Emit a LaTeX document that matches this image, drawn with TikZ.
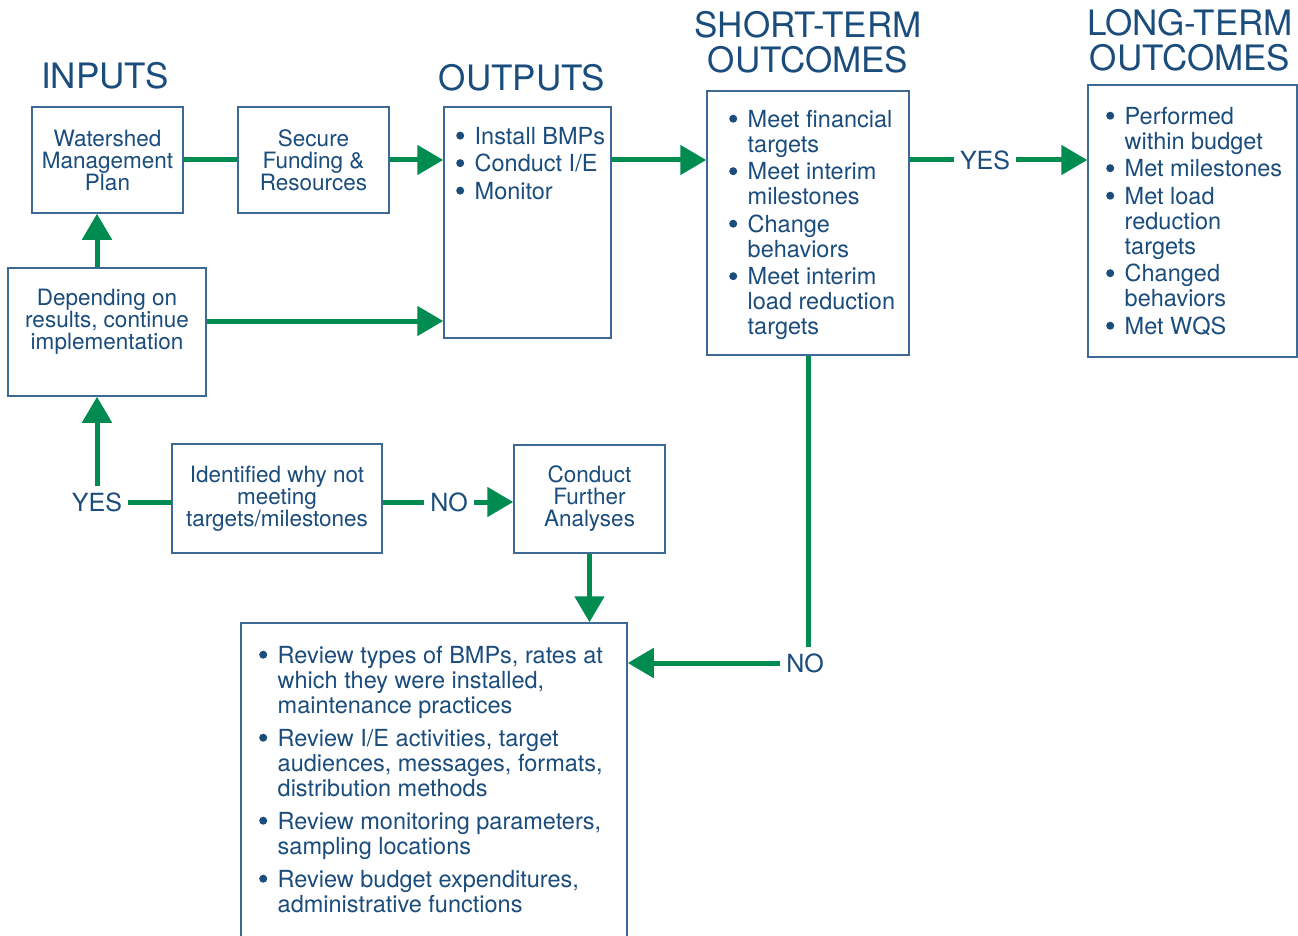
\documentclass[tikz,border=0pt]{standalone}
\usepackage{fontspec}
\setmainfont{TeX Gyre Heros}
\usetikzlibrary{arrows.meta}

\definecolor{navy}{HTML}{1A4C7C}
\definecolor{frame}{HTML}{3C6A95}
\definecolor{leaf}{HTML}{008C50}

\newcommand\bul{\makebox[18.5pt][l]{\tikz[baseline=0pt]\fill[navy] (4pt,8.7pt) circle[radius=4pt];}}
\newcommand\ind{\hspace*{18.5pt}}

\tikzset{
  box/.style={draw=frame, line width=1.5pt, inner sep=0pt, text=navy, align=center,
    font=\fontsize{22.5}{22}\selectfont},
  list/.style={text=navy, align=left, inner sep=0pt, anchor=north west,
    font=\fontsize{23.5}{25}\selectfont},
  heading/.style={text=navy, align=center, inner sep=0pt, font=\fontsize{35}{35}\selectfont},
  answer/.style={text=navy, inner sep=6pt, font=\fontsize{25}{25}\selectfont},
  link/.style={leaf, line width=5pt},
  flow/.style={link, -{Triangle[length=26pt,width=29pt]}},
}

\begin{document}
\begin{tikzpicture}[x=1pt, y=-1pt]
  \path[use as bounding box, fill=white] (0,0) rectangle (1298,936);

  %%% headings
  \node[heading] (inputs-head) at (105,76) {INPUTS};
  \node[heading] (outputs-head) at (522,78) {OUTPUTS};
  \node[heading] (short-head) at (808,42) {SHORT-TERM\\OUTCOMES};
  \node[heading] (long-head) at (1190,40) {LONG-TERM\\OUTCOMES};

  %%% boxes
  \node[box, minimum width=151pt, minimum height=106pt] (watershed) at (107.5,160) {Watershed\\Management\\Plan};
  \node[box, minimum width=151pt, minimum height=106pt] (secure) at (313.5,160) {Secure\\Funding \&\\Resources};
  \node[box, minimum width=167pt, minimum height=231pt] (outputs) at (527.5,222.5) {};
  \node[box, minimum width=202pt, minimum height=264pt] (st) at (808,223) {};
  \node[box, minimum width=209pt, minimum height=272pt] (lt) at (1192.5,221) {};
  \node[box, minimum width=198pt, minimum height=128pt] (depending) at (107,332) {};
  \node[box, draw=none] (depending-text) at (107,322) {Depending on\\results, continue\\implementation};
  \node[box, minimum width=210pt, minimum height=109pt] (identified) at (277,498.5) {Identified why not\\meeting\\targets/milestones};
  \node[box, minimum width=151pt, minimum height=108pt] (conduct) at (589.5,499) {Conduct\\Further\\Analyses};
  \node[box, minimum width=386pt, minimum height=327pt] (review) at (434,786.5) {};

  %%% lists
  \node[list] (outputs-list) at (456,127) {\bul Install BMPs\\[2.5pt]
    \bul Conduct I/E\\[2.5pt]
    \bul Monitor};
  \node[list] (st-list) at (729,110) {\bul Meet financial\\ \ind targets\\[2.5pt]
    \bul Meet interim\\ \ind milestones\\[2.5pt]
    \bul Change\\ \ind behaviors\\[2.5pt]
    \bul Meet interim\\ \ind load reduction\\ \ind targets};
  \node[list] (lt-list) at (1106,107) {\bul Performed\\ \ind within budget\\[2.5pt]
    \bul Met milestones\\[2.5pt]
    \bul Met load\\ \ind reduction\\ \ind targets\\[2.5pt]
    \bul Changed\\ \ind behaviors\\[2.5pt]
    \bul Met WQS};
  \node[list] (review-list) at (259,646) {\bul Review types of BMPs, rates at\\ \ind which they were installed,\\ \ind maintenance practices\\[8pt]
    \bul Review I/E activities, target\\ \ind audiences, messages, formats,\\ \ind distribution methods\\[8pt]
    \bul Review monitoring parameters,\\ \ind sampling locations\\[8pt]
    \bul Review budget expenditures,\\ \ind administrative functions};

  %%% yes / no
  \node[answer] (yes-lt) at (985,160) {YES};
  \node[answer] (yes-go) at (97,502) {YES};
  \node[answer] (no-go) at (449,502) {NO};
  \node[answer] (no-st) at (805,663) {NO};

  %%% connectors
  \coordinate (dep-up) at ([xshift=-10pt]depending.north);
  \coordinate (dep-out) at ([yshift=11pt]depending.east);
  \draw[link] (watershed.east) -- (secure.west);
  \draw[flow] (secure.east) -- (outputs.west |- secure.east);
  \draw[flow] (outputs.east |- secure.east) -- (st.west |- secure.east);
  \draw[link] (st.east |- yes-lt) -- (yes-lt.west);
  \draw[flow] (yes-lt.east) -- (lt.west |- yes-lt);
  \draw[flow] (dep-up) -- (dep-up |- watershed.south);
  \draw[flow] (dep-out) -- (outputs.west |- dep-out);
  \draw[flow] (yes-go.north) -- (yes-go.north |- depending.south);
  \draw[link] (yes-go.east) -- (yes-go.east -| identified.west);
  \draw[link] (identified.east |- no-go) -- (no-go.west);
  \draw[flow] (no-go.east) -- (no-go.east -| conduct.west);
  \draw[flow] (conduct.south) -- (conduct.south |- review.north);
  \draw[link] (st.south) -- (st.south |- no-st.north);
  \draw[flow] (no-st.west) -- (no-st.west -| review.east);
\end{tikzpicture}
\end{document}
